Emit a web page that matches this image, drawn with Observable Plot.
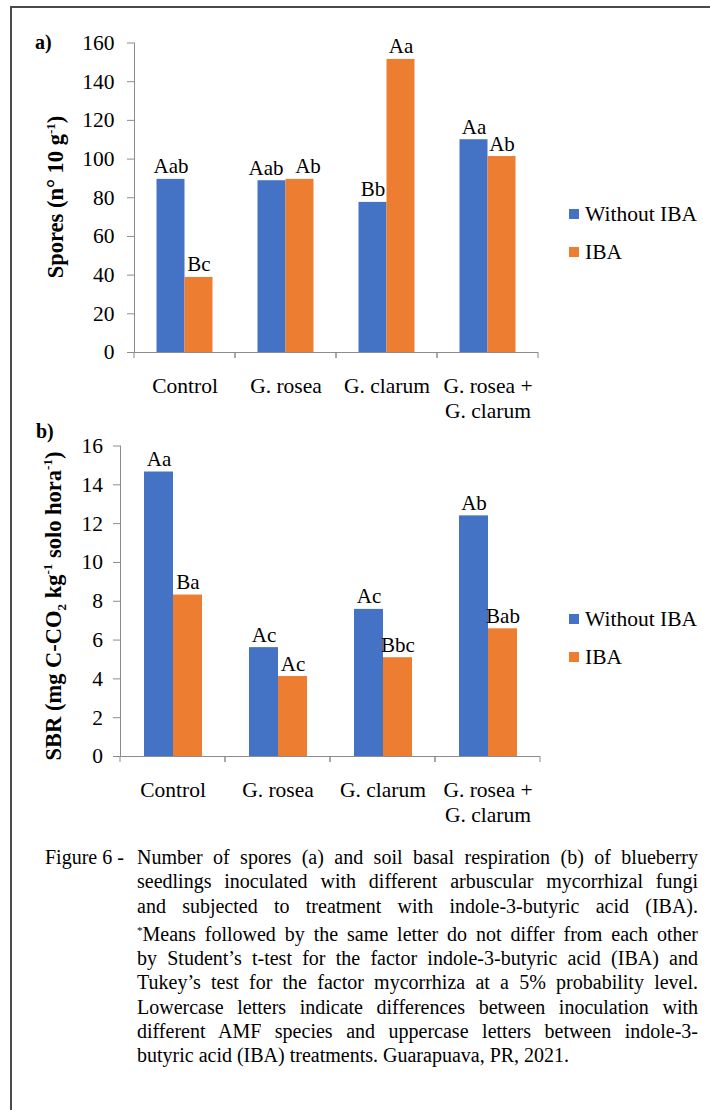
<!DOCTYPE html>
<html>
<head>
<meta charset="utf-8">
<script src="https://cdn.jsdelivr.net/npm/d3@7"></script>
<script src="https://cdn.jsdelivr.net/npm/@observablehq/plot@0.6"></script>
<style>
  body { margin: 0; background: #fff; }
  #page, #page * { font-family: "Liberation Serif", "Times New Roman", serif !important; }
  #page { position: relative; width: 710px; height: 1110px; overflow: hidden; color: #000; }
  #page svg text, #page svg tspan { font-family: "Liberation Serif", "Times New Roman", serif !important; }
  .abs { position: absolute; }
  .ytitle { position: absolute; white-space: nowrap; font-weight: bold; font-size: 22.5px; transform: translate(-50%, -50%) rotate(-90deg); }
  .panel { position: absolute; font-weight: bold; font-size: 20px; }
  .leg { position: absolute; font-size: 21.5px; white-space: nowrap; line-height: 1; }
  .sw { display: inline-block; width: 10px; height: 10px; margin-right: 6px; vertical-align: 2px; }
  #caption { position: absolute; left: 45px; top: 845px; width: 653px; font-size: 20px; line-height: 24.3px; }
  #caption div { text-align: justify; text-align-last: justify; white-space: nowrap; }
  #caption .first { display: flex; }
  #caption .lbl { width: 92px; flex: none; text-align: left; text-align-last: left; }
  #caption .rest { flex: 1; text-align: justify; text-align-last: justify; }
  #caption .ind { padding-left: 92px; }
  #caption .last { text-align-last: left; }
  sup.ast { font-size: 11px; vertical-align: 7px; }
</style>
</head>
<body>
<div id="page">
  <div class="abs" style="left:10px;top:6px;width:760px;height:1200px;border:2px solid #4a4a4a;z-index:5;pointer-events:none"></div>
  <div id="chartA" class="abs" style="left:0;top:0"></div>
  <div id="chartB" class="abs" style="left:0;top:400px"></div>

  <div class="panel" style="left:35px;top:31px">a)</div>
  <div class="panel" style="left:36px;top:420px">b)</div>

  <div class="ytitle" style="left:56px;top:197px">Spores (n° 10 g<sup style="font-size:13px">-1</sup>)</div>
  <div class="ytitle" style="left:55px;top:606px">SBR (mg C-CO<sub style="font-size:13px">2</sub> kg<sup style="font-size:13px">-1</sup> solo hora<sup style="font-size:13px">-1</sup>)</div>

  <div id="legA"></div>
  <div id="legB"></div>

  <div id="caption">
    <div class="first"><span class="lbl">Figure 6 -</span><span class="rest">Number of spores (a) and soil basal respiration (b) of blueberry</span></div>
    <div class="ind">seedlings inoculated with different arbuscular mycorrhizal fungi</div>
    <div class="ind">and subjected to treatment with indole-3-butyric acid (IBA).</div>
    <div class="ind"><sup class="ast">*</sup>Means followed by the same letter do not differ from each other</div>
    <div class="ind">by Student’s t-test for the factor indole-3-butyric acid (IBA) and</div>
    <div class="ind">Tukey’s test for the factor mycorrhiza at a 5% probability level.</div>
    <div class="ind">Lowercase letters indicate differences between inoculation with</div>
    <div class="ind">different AMF species and uppercase letters between indole-3-</div>
    <div class="ind last">butyric acid (IBA) treatments. Guarapuava, PR, 2021.</div>
  </div>
</div>
<script>
// ---- data ----
const categories = ["Control", "G. rosea", "G. clarum", "G. rosea +\nG. clarum"];
const seriesNames = ["Without IBA", "IBA"];
const seriesColors = ["#4472C4", "#ED7D31"];

const sporesWithout = [89.5, 88.8, 77.6, 110.0];
const sporesIBA = [38.8, 89.5, 151.5, 101.3];
const sporesLettersWithout = ["Aab", "Aab", "Bb", "Aa"];
const sporesLettersIBA = ["Bc", "Ab", "Aa", "Ab"];
const sporesTicks = [0, 20, 40, 60, 80, 100, 120, 140, 160];

const sbrWithout = [14.66, 5.61, 7.58, 12.4];
const sbrIBA = [8.32, 4.12, 5.09, 6.58];
const sbrLettersWithout = ["Aa", "Ac", "Ac", "Ab"];
const sbrLettersIBA = ["Ba", "Ac", "Bbc", "Bab"];
const sbrTicks = [0, 2, 4, 6, 8, 10, 12, 14, 16];

const axisColor = "#8c8c8c";
const serif = "Liberation Serif";

function table(withoutVals, ibaVals, withoutLet, ibaLet) {
  return categories.flatMap((c, i) => [
    {category: c, series: seriesNames[0], value: withoutVals[i], letter: withoutLet[i]},
    {category: c, series: seriesNames[1], value: ibaVals[i], letter: ibaLet[i]}
  ]);
}

// small ticks at the category boundaries (edges of each facet)
function boundaryTicks(index, scales, values, dimensions) {
  const {width, marginLeft, marginRight} = dimensions;
  const y0 = scales.y(0);
  const g = d3.create("svg:g").attr("stroke", axisColor).attr("stroke-width", 1);
  for (const x of [marginLeft, width - marginRight]) {
    g.append("line").attr("x1", x).attr("x2", x).attr("y1", y0).attr("y2", y0 + 6);
  }
  return g.node();
}

function letterMarks(data, nudge) {
  const base = {fx: "category", x: "series", y: "value", text: "letter", lineAnchor: "bottom", dy: -6, fontSize: 21, fontFamily: serif, fill: "#000"};
  if (!nudge) return [Plot.text(data, base)];
  // labels of one crowded pair are pushed slightly apart, as in the original
  const crowded = (d) => d.category === nudge;
  return [
    Plot.text(data, {...base, filter: (d) => !crowded(d)}),
    Plot.text(data, {...base, filter: (d) => crowded(d) && d.series === seriesNames[0], dx: -6}),
    Plot.text(data, {...base, filter: (d) => crowded(d) && d.series === seriesNames[1], dx: 8})
  ];
}

function chart(data, opts) {
  return Plot.plot({
    width: 560,
    height: opts.height,
    marginLeft: opts.marginLeft,
    marginRight: 19.7,
    marginTop: opts.marginTop,
    marginBottom: opts.marginBottom,
    style: {background: "transparent", overflow: "visible", fontFamily: serif, color: "#000"},
    fx: {domain: categories, padding: 0, label: null},
    x: {domain: seriesNames, paddingInner: 0, paddingOuter: 0.77, axis: null},
    y: {domain: opts.domain, label: null},
    color: {domain: seriesNames, range: seriesColors},
    marks: [
      Plot.barY(data, {fx: "category", x: "series", y: "value", fill: "series"}),
      Plot.ruleY([0], {stroke: axisColor}),
      boundaryTicks,
      Plot.frame({anchor: "left", stroke: axisColor, facetAnchor: "left"}),
      Plot.axisY({ticks: opts.ticks, tickSize: 7, tickPadding: opts.tickPadding, fontSize: 21.5, fontFamily: serif, stroke: axisColor, fill: "#000", label: null}),
      Plot.axisFx({anchor: "bottom", tickSize: 0, tickPadding: 23, fontSize: 21.5, fontFamily: serif, lineHeight: 1.15, label: null, fill: "#000"}),
      ...letterMarks(data, opts.nudge)
    ]
  });
}

document.getElementById("chartA").append(chart(table(sporesWithout, sporesIBA, sporesLettersWithout, sporesLettersIBA), {
  height: 420, marginLeft: 132.5, marginTop: 42.5, marginBottom: 68, domain: [0, 160], ticks: sporesTicks, tickPadding: 13, nudge: "G. rosea"
}));
document.getElementById("chartB").append(chart(table(sbrWithout, sbrIBA, sbrLettersWithout, sbrLettersIBA), {
  height: 440, marginLeft: 120, marginTop: 45.5, marginBottom: 84, domain: [0, 16], ticks: sbrTicks, tickPadding: 10.5
}));

// legends (HTML, from the series arrays)
function legend(el, top) {
  el.innerHTML = "";
  seriesNames.forEach((name, i) => {
    const d = document.createElement("div");
    d.className = "leg";
    d.style.left = "569px";
    d.style.top = (top + i * 38) + "px";
    d.innerHTML = `<span class="sw" style="background:${seriesColors[i]}"></span>${name}`;
    el.append(d);
  });
}
legend(document.getElementById("legA"), 204);
legend(document.getElementById("legB"), 609);
</script>
</body>
</html>
